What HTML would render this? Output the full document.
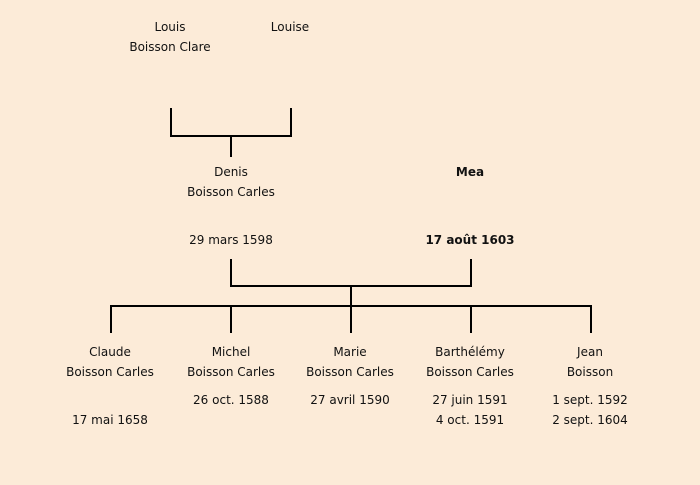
<!DOCTYPE html>
<html><head><meta charset="utf-8"><style>
body{margin:0;width:700px;height:485px;background:#fcebd8;position:relative;overflow:hidden;font-family:"Comic Sans MS","DejaVu Sans",sans-serif;font-size:12px;color:#111}
.t{position:absolute;width:160px;margin-left:-80px;text-align:center;line-height:20px;white-space:nowrap}
.b{font-weight:bold}
svg{position:absolute;left:0;top:0}
</style></head><body>
<svg width="700" height="485"><g stroke="#000" stroke-width="2" fill="none">
<path d="M171 108V136H291V108M231 136V157"/>
<path d="M231 259V286H471V259M351 286V306M111 333V306H591V333M231 306V333M351 306V333M471 306V333"/>
</g></svg>
<div class="t" style="left:170px;top:17px">Louis<br>Boisson Clare</div>
<div class="t" style="left:290px;top:17px">Louise</div>
<div class="t" style="left:231px;top:162px">Denis<br>Boisson Carles</div>
<div class="t" style="left:231px;top:230px">29 mars 1598</div>
<div class="t b" style="left:470px;top:162px">Mea</div>
<div class="t b" style="left:470px;top:230px">17 août 1603</div>
<div class="t" style="left:110px;top:342px">Claude<br>Boisson Carles</div>
<div class="t" style="left:110px;top:410px">17 mai 1658</div>
<div class="t" style="left:231px;top:342px">Michel<br>Boisson Carles</div>
<div class="t" style="left:231px;top:390px">26 oct. 1588</div>
<div class="t" style="left:350px;top:342px">Marie<br>Boisson Carles</div>
<div class="t" style="left:350px;top:390px">27 avril 1590</div>
<div class="t" style="left:470px;top:342px">Barthélémy<br>Boisson Carles</div>
<div class="t" style="left:470px;top:390px">27 juin 1591<br>4 oct. 1591</div>
<div class="t" style="left:590px;top:342px">Jean<br>Boisson</div>
<div class="t" style="left:590px;top:390px">1 sept. 1592<br>2 sept. 1604</div>
</body></html>
